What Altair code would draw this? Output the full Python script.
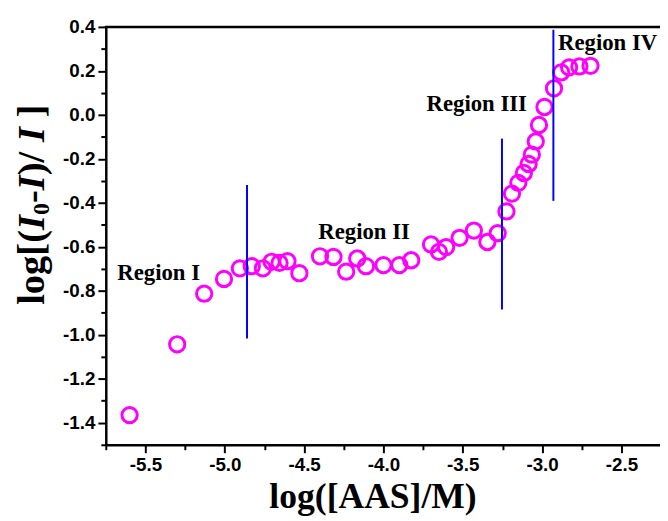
import altair as alt
import pandas as pd

# ---- data ----
conc = [-5.60, -5.30, -5.13, -5.005, -4.905, -4.83, -4.76, -4.705, -4.655, -4.605,
        -4.53, -4.40, -4.315, -4.235, -4.165, -4.11, -4.00, -3.90, -3.825, -3.70,
        -3.65, -3.605, -3.52, -3.43, -3.345, -3.28, -3.225, -3.19, -3.15, -3.115,
        -3.085, -3.065, -3.04, -3.02, -2.985, -2.925, -2.88, -2.83, -2.765, -2.695]
resp = [-1.365, -1.043, -0.813, -0.746, -0.698, -0.688, -0.698, -0.668, -0.673, -0.665,
        -0.720, -0.643, -0.646, -0.713, -0.653, -0.688, -0.683, -0.683, -0.661, -0.589,
        -0.623, -0.601, -0.559, -0.526, -0.578, -0.538, -0.439, -0.358, -0.309, -0.264,
        -0.223, -0.181, -0.121, -0.046, 0.036, 0.121, 0.193, 0.216, 0.220, 0.223]

line_x = [-4.86, -3.253, -2.929]
line_lo = [-1.017, -0.885, -0.391]
line_hi = [-0.319, -0.108, 0.387]

region_names = ["Region I", "Region II", "Region III", "Region IV"]
region_x = [-5.417, -4.122, -3.412, -2.587]
region_y = [-0.719, -0.535, 0.049, 0.328]

x_ticks = [-5.75 + 0.25 * i for i in range(14)]
y_ticks = [round(-1.5 + 0.1 * i, 1) for i in range(20)]

X_DOMAIN = [-5.75, -2.257]
Y_DOMAIN = [-1.5, 0.4]

W, H = 561, 423

pts = pd.DataFrame({"conc": conc, "resp": resp})
lines = pd.DataFrame({"conc": line_x, "resp": line_lo, "hi": line_hi})
regions = pd.DataFrame({"name": region_names, "conc": region_x, "resp": region_y})

xs = alt.Scale(domain=X_DOMAIN, nice=False, zero=False)
ys = alt.Scale(domain=Y_DOMAIN, nice=False, zero=False)

common_axis = dict(
    domainColor="black", domainWidth=2.5, tickColor="black", tickWidth=2,
    labelFont="Liberation Sans", labelFontWeight="bold", labelFontSize=19,
    labelColor="black", labelOverlap=False, labelFlush=False, grid=False,
)

x_axis = alt.Axis(
    values=x_ticks,
    labelExpr="round(datum.value*4) % 2 == 0 ? replace(format(datum.value, '.1f'), '\u2212', '-') : ''",
    tickSize={"condition": {"test": "round(datum.value*4) % 2 == 0", "value": 8}, "value": 5},
    labelPadding=3,
    title="log([AAS]/M)", titleFont="Liberation Serif", titleFontSize=36,
    titleFontWeight="bold", titleColor="black",
    titleX=270, titleY=63, titleAlign="center", titleBaseline="alphabetic",
    **common_axis,
)
y_axis = alt.Axis(
    values=y_ticks,
    labelExpr="round(datum.value*10) % 2 == 0 ? replace(format(datum.value, '.1f'), '\u2212', '-') : ''",
    tickSize={"condition": {"test": "round(datum.value*10) % 2 == 0", "value": 8}, "value": 5},
    labelPadding=3, title="",
    **common_axis,
)

X = alt.X("conc:Q", scale=xs, axis=x_axis)
Y = alt.Y("resp:Q", scale=ys, axis=y_axis)

points = alt.Chart(pts).mark_point(
    shape="circle", filled=False, size=240, strokeWidth=3, color="#FF00FF", opacity=1
).encode(x=X, y=Y)

# top frame line of the plot box
frame_top = alt.Chart(pd.DataFrame({"k": [0]})).mark_rule(
    color="black", strokeWidth=2.5
).encode(x=alt.value(-1), x2=alt.value(W), y=alt.value(0))

vlines = alt.Chart(lines).mark_rule(color="#0000FF", strokeWidth=2).encode(
    x=X, y=Y, y2="hi:Q",
)

region_text = alt.Chart(regions).mark_text(
    font="Liberation Serif", fontWeight="bold", fontSize=23, color="black",
    align="center", baseline="middle"
).encode(x=X, y=Y, text="name:N")

# ---- composed y-axis title: log[(I0-I)/ I ] with italic I and subscript 0 ----
F = 39
segments = [
    ("log[(", "normal", F, 0, 1.944),
    ("I", "italic", F, 0, 0.389),
    ("0", "normal", 0.62 * F, 6, 0.31),
    ("-", "normal", F, 0, 0.333),
    ("I", "italic", F, 0, 0.389),
    (")/", "normal", F, 0, 0.861),
    ("I", "italic", F, 0, 0.389 + 0.25),
    ("]", "normal", F, 0, 0.333),
]
total = sum(s[4] for s in segments) * F
base_x = -63
center_y = 180
pos = center_y + total / 2
title_layers = []
for txt, style, size, shift, adv in segments:
    title_layers.append(
        alt.Chart(pd.DataFrame({"t": [txt]})).mark_text(
            font="Liberation Serif", fontWeight="bold", fontStyle=style,
            fontSize=size, color="black", angle=270, align="left", baseline="alphabetic"
        ).encode(x=alt.value(base_x + shift), y=alt.value(pos), text="t:N")
    )
    pos -= adv * F

chart = alt.layer(points, vlines, region_text, frame_top, *title_layers).properties(
    width=W, height=H,
    autosize=alt.AutoSizeParams(type="none"),
    padding={"left": 99, "top": 16, "right": 0, "bottom": 72},
    background="white",
).configure_view(stroke=None)

chart.save("out.html", embed_options={"renderer": "svg", "actions": False})
